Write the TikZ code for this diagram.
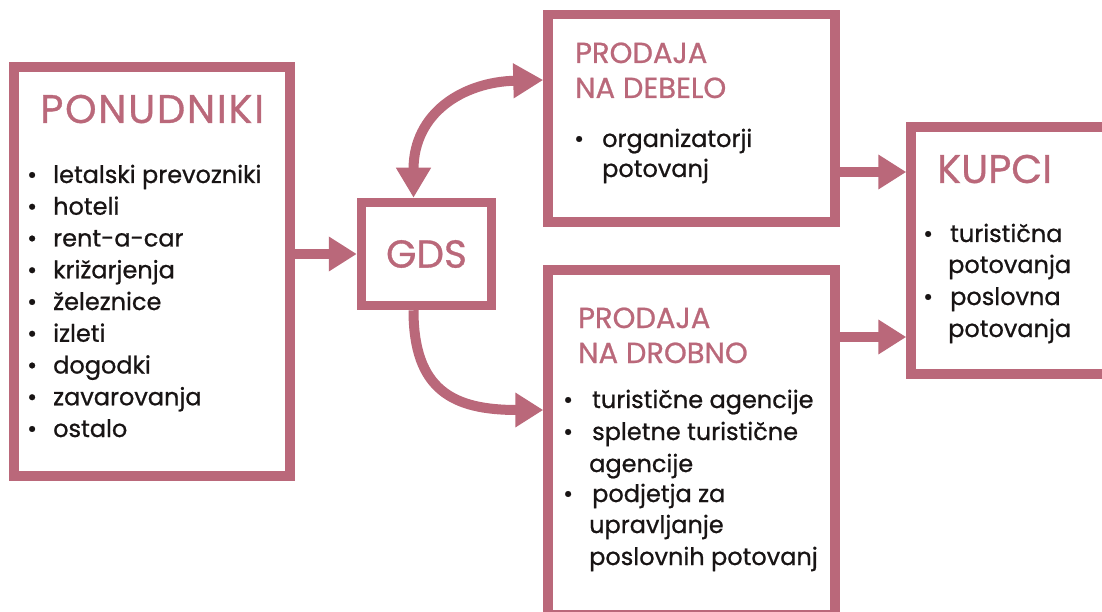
\documentclass[tikz,border=0pt]{standalone}
\usepackage{fontspec}
\setmainfont{Poppins}
\newfontfamily\medfont{Poppins}[FakeBold=0.8]
\newfontfamily\medwidefont{Poppins}[FakeBold=0.8,LetterSpace=4.4]
\usetikzlibrary{arrows.meta}
\definecolor{rose}{RGB}{186,104,122}
\definecolor{ink}{RGB}{24,20,20}
\begin{document}
\begin{tikzpicture}[x=1pt,y=-1pt,
  box/.style={draw=rose,line width=9.5pt,inner sep=0pt,fill=white},
  ttl/.style={text=rose,font=\medfont\fontsize{40}{40}\selectfont,anchor=base west,inner sep=0pt},
  sttl/.style={text=rose,font=\medfont\fontsize{29}{29}\selectfont,anchor=base west,inner sep=0pt},
  itm/.style={text=ink,font=\medfont\fontsize{24}{24}\selectfont,anchor=base west,inner sep=0pt},
  conn/.style={draw=rose,line width=10pt,-{Triangle[length=28pt,width=33pt]}},
  dconn/.style={draw=rose,line width=10pt,{Triangle[length=30pt,width=33pt]}-{Triangle[length=30pt,width=33pt]}}
]
\useasboundingbox (0,0) rectangle (1102,612);
\clip (0,0) rectangle (1102,612);
% boxes
\node[box,minimum width=276pt,minimum height=409pt] (pon) at (152,271.5) {};
\node[box,minimum width=130pt,minimum height=103pt,text=rose,font=\medfont\fontsize{39}{39}\selectfont] (gds) at (426.5,254) {GDS};
\node[box,minimum width=287pt,minimum height=207.5pt] (deb) at (691.5,118.25) {};
\node[box,minimum width=287pt,minimum height=345pt] (drb) at (691.5,442.5) {};
\node[box,minimum width=196pt,minimum height=247pt] (kup) at (1009,250.5) {};
% connectors
\draw[conn] (pon.east |- gds.west) -- (gds.west);
\draw[dconn] ([xshift=-13pt]gds.north) .. controls +(0,-85) and +(-80,2) .. (deb.west |- 0,80) coordinate (debin);
\draw[conn] ([xshift=-13pt]gds.south) .. controls +(0,80) and +(-90,0) .. (drb.west |- 0,410) coordinate (drbin);
\draw[conn] (deb.east |- 0,172) -- (kup.west |- 0,172);
\draw[conn] (drb.east |- 0,337) -- (kup.west |- 0,337);
% PONUDNIKI
\node[ttl,font=\medwidefont\fontsize{40}{40}\selectfont] (tpon) at (40,123) {PONUDNIKI};
\foreach \t [count=\i from 0] in {letalski prevozniki,hoteli,rent-a-car,križarjenja,železnice,izleti,dogodki,zavarovanja,ostalo}{
  \node[itm] (pb\i) at (27,183+31.75*\i) {•};
  \node[itm] (pi\i) at (53,183+31.75*\i) {\t};
}
% PRODAJA NA DEBELO
\node[sttl] (tdeb1) at (575,63) {PRODAJA};
\node[sttl] (tdeb2) at (575,98) {NA DEBELO};
\node[itm] (db0) at (574,147) {•};
\node[itm] (di0) at (602,147) {organizatorji};
\node[itm] (di1) at (602,177) {potovanj};
% PRODAJA NA DROBNO
\node[sttl] (tdrb1) at (578,328) {PRODAJA};
\node[sttl] (tdrb2) at (578,363) {NA DROBNO};
\node[itm] (rb0) at (563,408) {•};
\node[itm] (ri0) at (592,408) {turistične agencije};
\node[itm] (rb1) at (563,440) {•};
\node[itm] (ri1) at (592,440) {spletne turistične};
\node[itm] (ri2) at (589,472) {agencije};
\node[itm] (rb2) at (563,502) {•};
\node[itm] (ri3) at (592,502) {podjetja za};
\node[itm] (ri4) at (589,533) {upravljanje};
\node[itm] (ri5) at (589,565) {poslovnih potovanj};
% KUPCI
\node[ttl] (tkup) at (937,183) {KUPCI};
\node[itm] (kb0) at (923,242) {•};
\node[itm] (ki0) at (950,242) {turistična};
\node[itm] (ki1) at (948,273) {potovanja};
\node[itm] (kb1) at (923,305) {•};
\node[itm] (ki2) at (950,305) {poslovna};
\node[itm] (ki3) at (948,337) {potovanja};
\end{tikzpicture}
\end{document}
